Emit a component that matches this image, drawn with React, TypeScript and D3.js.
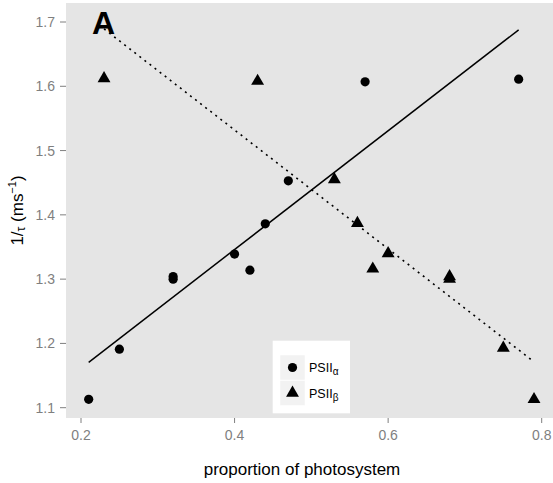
import React from "react";
import * as d3 from "d3";

const alphaX = [0.21, 0.25, 0.32, 0.32, 0.40, 0.42, 0.44, 0.47, 0.57, 0.77];
const alphaY = [1.113, 1.191, 1.304, 1.300, 1.339, 1.314, 1.386, 1.453, 1.607, 1.611];
const betaX = [0.79, 0.75, 0.68, 0.68, 0.60, 0.58, 0.56, 0.53, 0.43, 0.23];
const betaY = [1.113, 1.193, 1.304, 1.300, 1.340, 1.316, 1.387, 1.455, 1.608, 1.612];
const xTicks = [0.2, 0.4, 0.6, 0.8];
const yTicks = [1.1, 1.2, 1.3, 1.4, 1.5, 1.6, 1.7];

function fit(xs: number[], ys: number[]) {
  const mx = d3.mean(xs)!;
  const my = d3.mean(ys)!;
  let sxy = 0, sxx = 0;
  xs.forEach((x, i) => { sxy += (x - mx) * (ys[i] - my); sxx += (x - mx) * (x - mx); });
  const b = sxy / sxx;
  const a = my - b * mx;
  const x0 = d3.min(xs)!, x1 = d3.max(xs)!;
  return [[x0, a + b * x0], [x1, a + b * x1]] as [number, number][];
}

export default function App() {
  const W = 553, H = 483;
  const pL = 66, pT = 3, pR = 553, pB = 418;
  const x = d3.scaleLinear().domain([0.2, 0.8]).range([81, 541.7]);
  const y = d3.scaleLinear().domain([1.1, 1.7]).range([407.7, 22]);
  const line = d3.line<[number, number]>().x(d => x(d[0])).y(d => y(d[1]));
  const tri = d3.symbol().type(d3.symbolTriangle).size(72)();
  const font = "'Liberation Sans', Arial, Helvetica, sans-serif";
  const fa = fit(alphaX, alphaY);
  const fb = fit(betaX, betaY);
  return (
    <svg width={W} height={H} style={{ position: "absolute", left: 0, top: 0, fontFamily: font }}>
      <rect x={0} y={0} width={W} height={H} fill="#fff" />
      <rect x={pL} y={pT} width={pR - pL} height={pB - pT} fill="#e5e5e5" />
      {xTicks.map(t => (
        <g key={t}>
          <line x1={x(t)} x2={x(t)} y1={pB} y2={pB + 5} stroke="#7f7f7f" strokeWidth={1} />
          <text x={x(t)} y={440} textAnchor="middle" fontSize={14} fill="#7f7f7f">{t.toFixed(1)}</text>
        </g>
      ))}
      {yTicks.map(t => (
        <g key={t}>
          <line x1={pL - 6} x2={pL} y1={y(t)} y2={y(t)} stroke="#7f7f7f" strokeWidth={1} />
          <text x={55} y={y(t) + 5} textAnchor="end" fontSize={14} fill="#7f7f7f">{t.toFixed(1)}</text>
        </g>
      ))}
      <path d={line(fa)!} fill="none" stroke="#000" strokeWidth={1.5} />
      <path d={line(fb)!} fill="none" stroke="#000" strokeWidth={1.6} strokeDasharray="2,4.4" />
      {alphaX.map((v, i) => (
        <circle key={"a" + i} cx={x(v)} cy={y(alphaY[i])} r={4.6} fill="#000" />
      ))}
      {betaX.map((v, i) => (
        <path key={"b" + i} d={tri!} transform={`translate(${x(v)},${y(betaY[i])})`} fill="#000" />
      ))}
      <text x={92} y={34} fontSize={32} fontWeight="bold" fill="#000">A</text>
      <g>
        <rect x={272.7} y={340.7} width={77.3} height={72.6} fill="#fff" />
        <rect x={280} y={355} width={25} height={25} fill="#f2f2f2" stroke="#fff" strokeWidth={0.5} />
        <rect x={280} y={380.5} width={25} height={25} fill="#f2f2f2" stroke="#fff" strokeWidth={0.5} />
        <circle cx={292.5} cy={367.5} r={4.6} fill="#000" />
        <path d={tri!} transform="translate(292.5,393)" fill="#000" />
        <text x={309} y={372} fontSize={12.5} fill="#000">PSII<tspan fontSize={10} dy={3}>α</tspan></text>
        <text x={309} y={397.5} fontSize={12.5} fill="#000">PSII<tspan fontSize={10} dy={3}>β</tspan></text>
      </g>
      <text x={302} y={475} textAnchor="middle" fontSize={17} fill="#000">proportion of photosystem</text>
      <text transform={`translate(23,${(pT + pB) / 2}) rotate(-90)`} textAnchor="middle" fontSize={17} fill="#000">
        1/<tspan fontSize={12} dy={2}>τ</tspan><tspan dy={-2}> (ms</tspan><tspan fontSize={11} dy={-7}>−1</tspan><tspan dy={7}>)</tspan>
      </text>
    </svg>
  );
}
